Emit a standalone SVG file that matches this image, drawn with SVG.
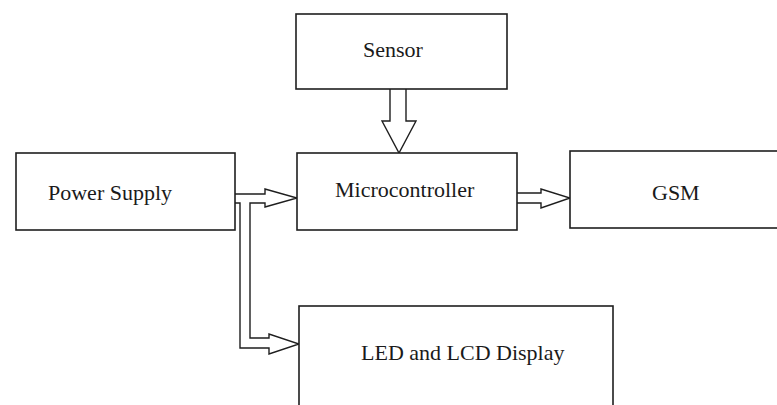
<svg xmlns="http://www.w3.org/2000/svg" width="777" height="405" viewBox="0 0 777 405">
<style>
.box{fill:#fff;stroke:#1e1e1e;stroke-width:1.6}
.lbl{font-family:'Liberation Serif','Times New Roman',serif;font-size:22px;fill:#1a1a1a}
.arr{fill:none;stroke:#1e1e1e;stroke-width:1.4;stroke-linejoin:miter}
</style>
<rect width="777" height="405" fill="#fff"/>
<g id="connectors">
<path class="arr" d="M390,89 V121 H382 L399,153 L416,121 H406 V89"/>
<path class="arr" d="M235,194 H265 V189 L297,198 L265,207 V203 H250 V338 H269 V334 L299,344 L269,354 V348 H240 V203 H235"/>
<path class="arr" d="M517,193 H541 V189 L570,198 L541,208 V203 H517"/>
</g>
<g id="sensor"><rect class="box" x="296" y="14" width="211" height="75"/><text class="lbl" x="363" y="57">Sensor</text></g>
<g id="power"><rect class="box" x="16" y="153" width="219" height="77"/><text class="lbl" x="48" y="200">Power Supply</text></g>
<g id="micro"><rect class="box" x="297" y="153" width="220" height="77"/><text class="lbl" x="335" y="197">Microcontroller</text></g>
<g id="gsm"><rect class="box" x="570" y="151" width="220" height="77"/><text class="lbl" x="652" y="200">GSM</text></g>
<g id="led"><rect class="box" x="299" y="306" width="314" height="110"/><text class="lbl" x="361" y="360">LED and LCD Display</text></g>
</svg>
